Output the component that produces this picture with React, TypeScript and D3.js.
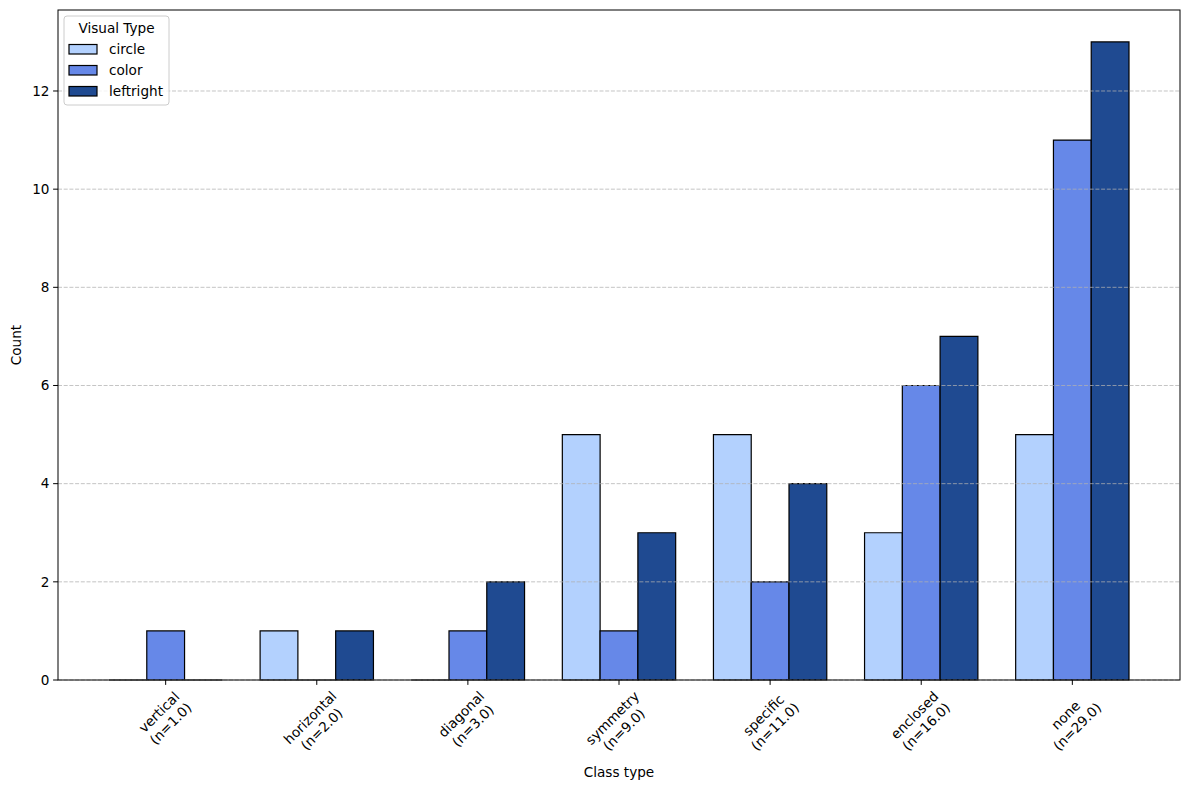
import * as d3 from "d3";
import React from "react";

// data
const classTypes = ["vertical", "horizontal", "diagonal", "symmetry", "specific", "enclosed", "none"];
const visualTypes = ["circle", "color", "leftright"];
const circleCounts = [0, 1, 0, 5, 5, 3, 5];
const colorCounts = [1, 0, 1, 1, 2, 6, 11];
const leftrightCounts = [0, 1, 2, 3, 4, 7, 13];
const yTicks = [0, 2, 4, 6, 8, 10, 12];
const barColors = ["#b3d1fe", "#6688e8", "#1f4a91"];

const W = 1189;
const H = 790;
const margin = { left: 58, right: 9, top: 10, bottom: 110 };
const FONT = "DejaVu Sans, sans-serif";
const FS = 13.6;

let ctx: CanvasRenderingContext2D | null = null;
const measure = (s: string) => {
  if (!ctx) {
    ctx = document.createElement("canvas").getContext("2d");
    if (ctx) ctx.font = `${FS}px DejaVu Sans`;
  }
  return ctx ? ctx.measureText(s).width : s.length * FS * 0.6;
};

export default function App() {
  const series = [circleCounts, colorCounts, leftrightCounts];
  const totals = classTypes.map((_, i) => series.reduce((s, arr) => s + arr[i], 0));
  const labels = classTypes.map((c, i) => [c, `(n=${totals[i].toFixed(1)})`]);

  const barW = 0.25;
  const maxV = d3.max(series.flat()) as number;
  const x = d3
    .scaleLinear()
    .domain([-0.375 - 0.3375, classTypes.length - 1 + 0.375 + 0.3375])
    .range([margin.left, W - margin.right]);
  const y = d3
    .scaleLinear()
    .domain([0, maxV * 1.05])
    .range([H - margin.bottom, margin.top]);

  const x0 = margin.left;
  const x1 = W - margin.right;
  const y0 = H - margin.bottom;
  const y1 = margin.top;

  // two-line rotated tick labels
  const asc = FS * 0.76;
  const desc = FS * 0.24;
  const lh = FS * 1.2;
  const blockH = asc + lh + desc;
  const firstBase = asc - blockH / 2;

  return (
    <svg width={W} height={H} style={{ display: "block", margin: -8 }} fontFamily={FONT}>
      <rect x={0} y={0} width={W} height={H} fill="white" />
      {/* bars */}
      {series.map((vals, s) =>
        vals.map((v, i) => {
          const cx = i + (s - 1) * barW;
          const bx = x(cx - barW / 2);
          const bw = x(cx + barW / 2) - bx;
          const by = y(v);
          const bh = y(0) - by;
          return (
            <path
              key={`${s}-${i}`}
              d={`M${bx},${y(0)}h${bw}v${-bh}h${-bw}Z`}
              fill={barColors[s]}
              stroke="black"
              strokeWidth={1.2}
            />
          );
        })
      )}
      {/* grid */}
      {yTicks.map((t) => (
        <line
          key={`g${t}`}
          x1={x0}
          x2={x1}
          y1={y(t)}
          y2={y(t)}
          stroke="#b0b0b0"
          strokeOpacity={0.75}
          strokeWidth={1}
          strokeDasharray="4,1.7"
        />
      ))}
      {/* frame */}
      <rect x={x0} y={y1} width={x1 - x0} height={y0 - y1} fill="none" stroke="black" strokeWidth={1} />
      {/* y ticks */}
      {yTicks.map((t) => (
        <g key={`y${t}`} transform={`translate(${x0},${y(t)})`}>
          <line x1={-4.9} x2={0} stroke="black" strokeWidth={1} />
          <text x={-8.5} dy="0.35em" textAnchor="end" fontSize={FS}>
            {t}
          </text>
        </g>
      ))}
      {/* x ticks */}
      {labels.map((lines, i) => {
        const w = Math.max(...lines.map(measure));
        const side = (w + blockH) / Math.SQRT2;
        const cy = y0 + 9.7 + side / 2;
        return (
          <g key={`x${i}`}>
            <line x1={x(i)} x2={x(i)} y1={y0} y2={y0 + 4.9} stroke="black" strokeWidth={1} />
            <g transform={`translate(${x(i)},${cy}) rotate(-45)`}>
              {lines.map((l, k) => (
                <text key={k} y={firstBase + k * lh} textAnchor="middle" fontSize={FS}>
                  {l}
                </text>
              ))}
            </g>
          </g>
        );
      })}
      {/* axis labels */}
      <text x={(x0 + x1) / 2} y={777} textAnchor="middle" fontSize={FS}>
        Class type
      </text>
      <text transform={`translate(21,${(y0 + y1) / 2}) rotate(-90)`} textAnchor="middle" fontSize={FS}>
        Count
      </text>
      {/* legend */}
      <g transform="translate(64,16)">
        <rect x={0} y={0} width={105} height={89} rx={3} fill="white" fillOpacity={0.8} stroke="#cccccc" strokeWidth={1} />
        <text x={52.5} y={17} textAnchor="middle" fontSize={FS}>
          Visual Type
        </text>
        {visualTypes.map((v, k) => (
          <g key={v} transform={`translate(0,${33 + k * 21})`}>
            <rect x={5} y={-4.5} width={28} height={9.5} fill={barColors[k]} stroke="black" strokeWidth={1.2} />
            <text x={45} dy="0.35em" fontSize={FS}>
              {v}
            </text>
          </g>
        ))}
      </g>
    </svg>
  );
}
